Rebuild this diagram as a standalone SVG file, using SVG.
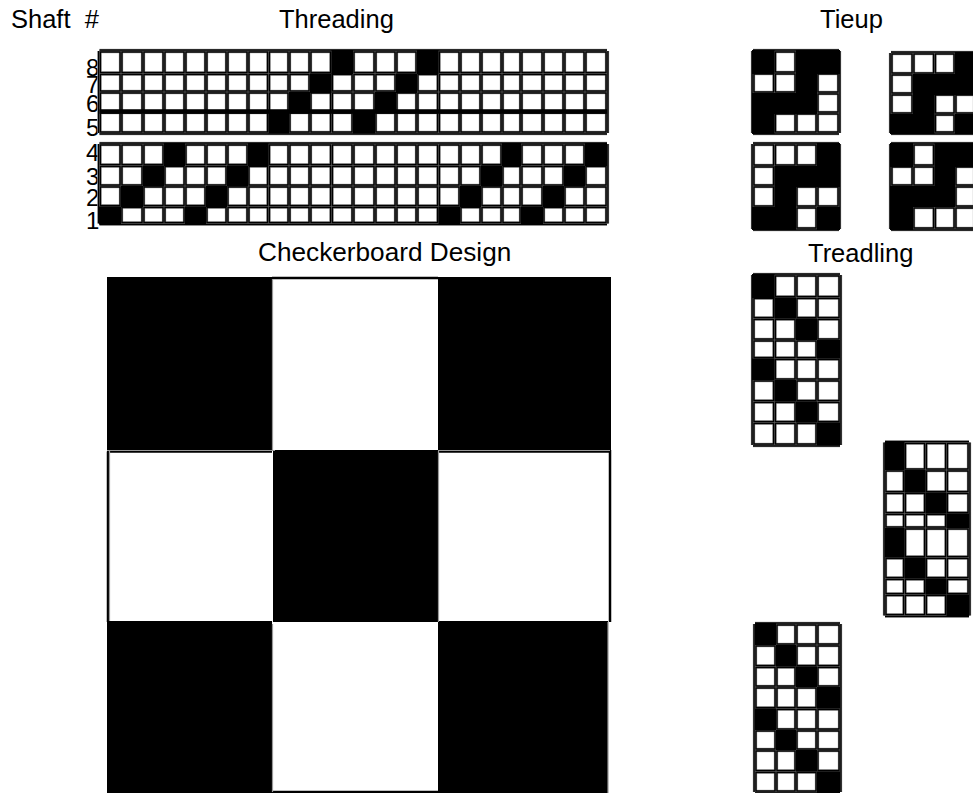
<svg xmlns="http://www.w3.org/2000/svg" width="973" height="793" viewBox="0 0 973 793">
<style>
text{font-family:"Liberation Sans",Arial,sans-serif;font-size:25.5px;fill:#000;white-space:pre}
.d{font-size:24px}
.g1{fill:none;stroke:#aaa;stroke-width:4.4}
.g2{fill:none;stroke:#000;stroke-width:3.4}
.g3{fill:none;stroke:#666;stroke-width:.6}
.b{fill:#000}
</style>
<defs>
<path id="tu" d="M99.5 51H607M99.5 73.5H607M99.5 92H607M99.5 112H607M99.5 133H607M99.5 51V133M121 51V133M143 51V133M164 51V133M185 51V133M206 51V133M227 51V133M248 51V133M268.5 51V133M289 51V133M310 51V133M331.500 51V133M353 51V133M375 51V133M396 51V133M417 51V133M438.500 51V133M460 51V133M481 51V133M502 51V133M521 51V133M543 51V133M564 51V133M585 51V133M607 51V133"/>
<path id="tl" d="M99.5 144H607M99.5 165.500H607M99.5 186H607M99.5 206.500H607M99.5 223.500H607M99.5 144V223.500M121 144V223.500M143 144V223.500M164 144V223.500M185 144V223.500M206 144V223.500M227 144V223.500M248 144V223.500M268.500 144V223.500M289 144V223.500M310 144V223.500M331.500 144V223.500M353 144V223.500M375 144V223.500M396 144V223.500M417 144V223.500M438.500 144V223.500M460 144V223.500M481 144V223.500M502 144V223.500M521 144V223.500M543 144V223.500M564 144V223.500M585 144V223.500M607 144V223.500"/>
<path id="ta" d="M753 51H839M753 73H839M753 93H839M753 113H839M753 133H839M753 51V133M774.500 51V133M796 51V133M817 51V133M839 51V133"/>
<path id="tb" d="M891 53H975M891 74H975M891 94H975M891 114H975M891 133H975M891 53V133M913 53V133M934.500 53V133M955 53V133M975 53V133"/>
<path id="tc" d="M753 144H839M753 166H839M753 186H839M753 207H839M753 229H839M753 144V229M774.500 144V229M796 144V229M817 144V229M839 144V229"/>
<path id="td" d="M891 144H975M891 166H975M891 186H975M891 207H975M891 229H975M891 144V229M913 144V229M934.500 144V229M955 144V229M975 144V229"/>
<path id="p1" d="M753 275H840M753 297.500H840M753 318.500H840M753 340H840M753 358.500H840M753 380H840M753 401.500H840M753 422.500H840M753 445H840M753 275V445M774.500 275V445M796 275V445M817 275V445M840 275V445"/>
<path id="p2" d="M885 442.500H969M885 470H969M885 492.500H969M885 513.500H969M885 528H969M885 557.500H969M885 578.500H969M885 594.500H969M885 615.500H969M885 442.500V615.500M904.500 442.500V615.500M925.500 442.500V615.500M946.500 442.500V615.500M969 442.500V615.500"/>
<path id="p3" d="M755 624H840M755 645H840M755 666.500H840M755 687H840M755 708.500H840M755 730H840M755 750H840M755 771.500H840M755 792H840M755 624V792M776 624V792M796 624V792M817 624V792M840 624V792"/>
</defs>
<g id="labels">
<text x="11" y="28">Shaft  #</text>
<text x="279" y="28">Threading</text>
<text x="820" y="28">Tieup</text>
<text x="258" y="261" style="font-size:26.2px">Checkerboard Design</text>
<text x="808" y="262">Treadling</text>
<text class="d" x="86" y="76">8</text>
<text class="d" x="86" y="93">7</text>
<text class="d" x="86" y="112">6</text>
<text class="d" x="86" y="136">5</text>
<text class="d" x="86" y="161">4</text>
<text class="d" x="86" y="185">3</text>
<text class="d" x="86" y="206">2</text>
<text class="d" x="86" y="229">1</text>
</g>
<g id="threading">
<use href="#tu" class="g1"/><use href="#tu" class="g2"/><use href="#tu" class="g3"/>
<use href="#tl" class="g1"/><use href="#tl" class="g2"/><use href="#tl" class="g3"/>
<path d="M99.5 111.500H607" fill="none" stroke="#000" stroke-width="4.500"/>
<path class="b" d="M331.500 50h21.500v24h-21.500zM417 50h21.500v24h-21.500zM310 73.500h21.500v19.500h-21.500zM396 73.500h21v19.500h-21zM289 92h21v20h-21zM375 92h21v20h-21zM268.500 112h20.500v21.500h-20.500zM353 112h22v21.500h-22z"/>
<path class="b" d="M164 143h21v23h-21zM248 143h20.500v23h-20.500zM143 165.500h21v21h-21zM227 165.500h21v21h-21zM121 186h22v21h-22zM206 186h21v21h-21zM99 206.500h22v18h-22zM185 206.500h21v18h-21z"/>
<path class="b" d="M502 143h19v23h-19zM585 143h22v23h-22zM481 165.500h21v21h-21zM564 165.500h21v21h-21zM460 186h21v21h-21zM543 186h21v21h-21zM438.500 206.500h21.500v18h-21.500zM521 206.500h22v18h-22z"/>
</g>
<g id="tieup">
<use href="#ta" class="g1"/><use href="#ta" class="g2"/><use href="#ta" class="g3"/>
<use href="#tb" class="g1"/><use href="#tb" class="g2"/><use href="#tb" class="g3"/>
<use href="#tc" class="g1"/><use href="#tc" class="g2"/><use href="#tc" class="g3"/>
<use href="#td" class="g1"/><use href="#td" class="g2"/><use href="#td" class="g3"/>
<path class="b" d="M752 50h22.500v24h-22.500zM796 50h44v24h-44zM796 73h21v21h-21zM752 93h65v21h-65zM752 113h22.500v21h-22.500z"/>
<path class="b" d="M955 52h20v23h-20zM913 74h62v21h-62zM913 94h21.500v21h-21.500zM890 114h44.500v20h-44.500zM955 114h20v20h-20z"/>
<path class="b" d="M817 143h23v24h-23zM774.500 166h65.500v21h-65.500zM774.500 186h21.500v21h-21.500zM752 207h44v23h-44zM817 207h23v23h-23z"/>
<path class="b" d="M890 143h23v24h-23zM934.500 143h41v24h-41zM934.500 166h20.500v21h-20.500zM890 186h65v21h-65zM890 207h23v23h-23z"/>
</g>
<g id="treadling">
<use href="#p1" class="g1"/><use href="#p1" class="g2"/><use href="#p1" class="g3"/>
<use href="#p2" class="g1"/><use href="#p2" class="g2"/><use href="#p2" class="g3"/>
<use href="#p3" class="g1"/><use href="#p3" class="g2"/><use href="#p3" class="g3"/>
<path class="b" d="M752 274h22.500v24h-22.500zM774.500 297.500h21.500v21h-21.500zM796 318.500h21v21.500h-21zM817 340h23v18.500h-23zM752 358.500h22.500v21.500h-22.500zM774.500 380h21.500v21.500h-21.500zM796 401.500h21v21h-21zM817 422.500h23v23h-23z"/>
<path class="b" d="M885 442h19.500v28h-19.500zM904.500 470h21v22.500h-21zM925.500 492.500h21v21h-21zM946.500 513.500h22.500v14.500h-22.500zM885 528h19.500v29.500h-19.500zM904.500 557.500h21v21h-21zM925.500 578.500h21v16h-21zM946.500 594.500h22.500v21.500h-22.500z"/>
<path class="b" d="M755 623h21v22h-21zM776 645h20v21.500h-20zM796 666.500h21v20.500h-21zM817 687h23v21.500h-23zM755 708.500h21v21.500h-21zM776 730h20v20h-20zM796 750h21v21.500h-21zM817 771.500h23v21.500h-23z"/>
</g>
<g id="design">
<rect x="107" y="277" width="503" height="516" fill="#fff"/>
<rect x="107" y="277" width="165" height="173"/>
<rect x="438" y="277" width="173" height="173"/>
<rect x="273" y="450" width="165" height="172"/>
<rect x="107" y="621" width="165" height="172"/>
<rect x="438" y="621" width="170" height="172"/>
<path d="M272 278H438M108 451.500V622M610 450V622M272 792H438M107 451.500H272M438 451.500H610" fill="none" stroke="#000" stroke-width="2.500"/>
<path d="M272.500 279V450M107 450.500H275M109.500 451V621M438.500 451V622M438 450.500H610M272.500 624V792M608 622V793" fill="none" stroke="#999" stroke-width="1.200"/>
</g>
</svg>
